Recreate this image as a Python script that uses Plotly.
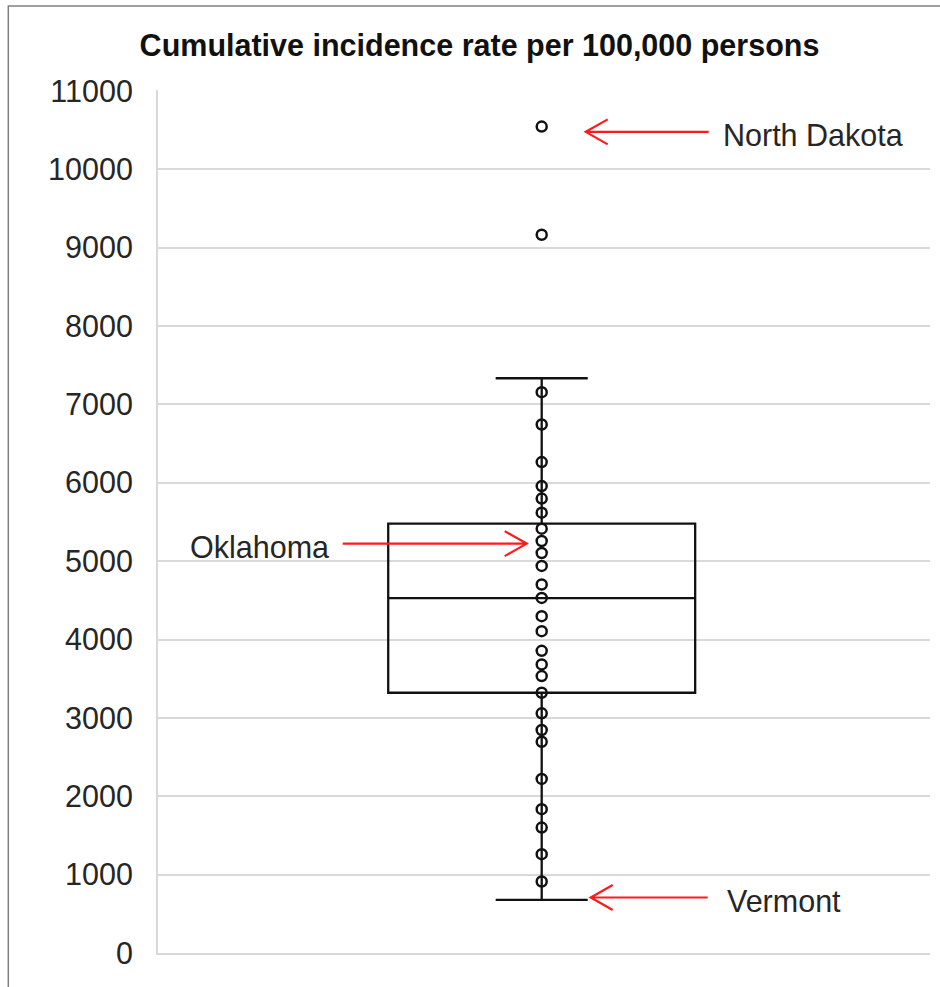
import plotly.graph_objects as go

# ---- data ----
state_values = [10545, 9165, 7156, 6744, 6264, 5958, 5798, 5619, 5415, 5257,
                5104, 4939, 4702, 4531, 4298, 4107, 3856, 3682, 3533, 3321,
                3058, 2845, 2696, 2221, 1835, 1600, 1261, 912]
box_q1 = [3321]
box_median = [4527]
box_q3 = [5479]
box_lowerfence = [679]
box_upperfence = [7334]

label_names = ["North Dakota", "Oklahoma", "Vermont"]
label_values = [10478, 5224, 708]
title_text = "Cumulative incidence rate per 100,000 persons"
y_ticks = list(range(0, 11001, 1000))

FONT = "Liberation Sans, Arial, sans-serif"
GRID = "#d9d9d9"
RED = "#ff1a1a"
FS = 30.5

fig = go.Figure()

fig.add_trace(go.Box(
    x=[0], q1=box_q1, median=box_median, q3=box_q3,
    lowerfence=box_lowerfence, upperfence=box_upperfence,
    width=0.8, whiskerwidth=0.3, boxpoints=False,
    line=dict(color="#111111", width=2.3), fillcolor="rgba(255,255,255,0)",
    hoverinfo="skip", showlegend=False,
))

fig.add_trace(go.Scatter(
    x=[0] * len(state_values), y=state_values, mode="markers",
    marker=dict(symbol="circle-open", size=10, color="#111111",
                line=dict(width=2.5, color="#111111")),
    showlegend=False, hoverinfo="skip",
))

# arrows (pixel geometry anchored to data positions) and labels
# per label: (tip dx, tail dx, text dx, text anchor)
arrow_geom = {
    "North Dakota": (44, 167, 179, "left"),
    "Oklahoma": (-15, -199, -211, "right"),
    "Vermont": (49, 166, 183, "left"),
}
shapes = []
annotations = []
for name, val in zip(label_names, label_values):
    tip, tail, tdx, anchor = arrow_geom[name]
    back = 22 if tail > tip else -22
    path = (f"M {tail},0 L {tip},0 M {tip+back},12.5 L {tip},0 L {tip+back},-12.5")
    shapes.append(dict(type="path", xref="x", yref="y", xsizemode="pixel",
                       ysizemode="pixel", xanchor=0, yanchor=val, path=path,
                       line=dict(color=RED, width=2.2)))
    annotations.append(dict(x=0, y=val, xref="x", yref="y", text=name,
                            showarrow=False, xanchor=anchor, yanchor="middle",
                            xshift=tdx, yshift=-3,
                            font=dict(family=FONT, size=FS, color="#262626")))

# outer chart-area border (extends beyond the visible frame on right/bottom)
shapes.append(dict(type="rect", xref="paper", yref="paper",
                   x0=-0.1939, x1=1.2, y0=-0.2, y1=1.0973,
                   line=dict(color="#808080", width=1.5), layer="below"))

fig.update_layout(
    width=940, height=987,
    margin=dict(l=158, r=10, t=90, b=34),
    paper_bgcolor="white", plot_bgcolor="white",
    title=dict(text=f"<b>{title_text}</b>", x=479.5 / 940,
               xref="container", xanchor="center", y=1 - 45 / 987,
               yref="container", yanchor="middle",
               font=dict(family=FONT, size=FS, color="#111111")),
    shapes=shapes, annotations=annotations,
    xaxis=dict(range=[-1, 1.012], showgrid=False, zeroline=False,
               showticklabels=False, showline=True, linecolor=GRID,
               linewidth=2, fixedrange=True),
    yaxis=dict(range=[0, 11012], tickvals=y_ticks,
               ticktext=[str(v) for v in y_ticks],
               showgrid=True, gridcolor=GRID, gridwidth=2,
               zeroline=False, showline=True, linecolor=GRID, linewidth=2,
               ticks="", ticklabelstandoff=17,
               tickfont=dict(family=FONT, size=FS, color="#262626")),
)

fig.write_html("out.html",
               config={"displayModeBar": False},
               post_script="document.body.style.margin='0px';"
                           "document.body.style.overflow='hidden';")
